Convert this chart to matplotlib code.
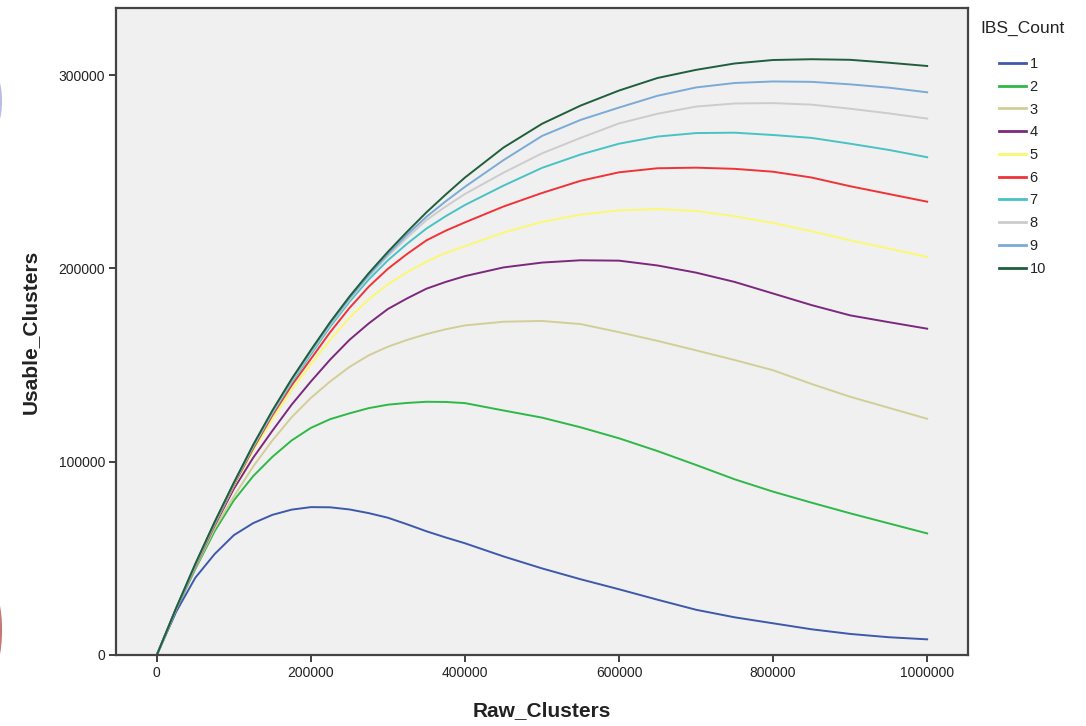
import matplotlib
matplotlib.use("Agg")
import matplotlib.pyplot as plt
from matplotlib.patches import Arc

plt.rcParams['font.family'] = ['Liberation Sans', 'DejaVu Sans']

# values
raw_clusters = [0, 25000, 50000, 75000, 100000, 125000, 150000, 175000, 200000, 225000, 250000,
                275000, 300000, 325000, 350000, 375000, 400000, 450000, 500000, 550000, 600000,
                650000, 700000, 750000, 800000, 850000, 900000, 950000, 1000000]

ibs_1 = [0, 22300, 40000, 52200, 62000, 68200, 72500, 75200, 76500, 76400, 75300,
         73400, 71000, 67600, 64000, 60800, 57800, 51000, 44800, 39200, 34000,
         28600, 23400, 19500, 16400, 13300, 10900, 9200, 8100]
ibs_2 = [0, 23500, 44500, 64000, 80000, 92500, 102500, 111000, 117500, 122000, 125000,
         127700, 129500, 130400, 131000, 130900, 130300, 126500, 122800, 117800, 112100,
         105500, 98300, 90900, 84500, 78800, 73300, 68100, 62900]
ibs_3 = [0, 23700, 45200, 65500, 82000, 97500, 111000, 123000, 133000, 141500, 149000,
         155000, 159500, 163000, 166000, 168500, 170500, 172400, 172800, 171200, 167000,
         162500, 157600, 152600, 147300, 140200, 133600, 127900, 122200]
ibs_4 = [0, 23800, 45800, 67000, 86000, 102000, 116000, 129500, 141500, 152800, 163000,
         171500, 179000, 184500, 189500, 193000, 196000, 200500, 203000, 204200, 204000,
         201500, 197800, 193000, 187000, 181000, 175700, 172200, 168800]
ibs_5 = [0, 23900, 46200, 67700, 87500, 105500, 122000, 137000, 150500, 163000, 174500,
         184000, 191800, 198000, 203500, 208000, 211500, 218500, 224000, 227800, 230000,
         230700, 229700, 227000, 223500, 219200, 214500, 210300, 205900]
ibs_6 = [0, 24000, 46500, 68000, 88000, 106700, 124000, 139500, 153200, 167000, 179500,
         190500, 199800, 207500, 214500, 219500, 223800, 232000, 239000, 245300, 249700,
         251800, 252100, 251500, 250000, 247000, 242500, 238500, 234500]
ibs_7 = [0, 24000, 46700, 68300, 88500, 107500, 125000, 141000, 155500, 169800, 182700,
         194200, 204200, 212800, 220600, 227000, 232800, 242800, 252000, 258900, 264500,
         268200, 270000, 270200, 269000, 267500, 264500, 261300, 257500]
ibs_8 = [0, 24100, 46900, 68500, 88700, 108000, 125500, 141800, 156600, 170800, 183700,
         195800, 206400, 216000, 225000, 232000, 238500, 249500, 259500, 267500, 275000,
         280000, 283700, 285300, 285500, 284700, 282600, 280200, 277500]
ibs_9 = [0, 24100, 47000, 68600, 88900, 108300, 126000, 142300, 157300, 171500, 184500,
         196500, 207400, 217500, 226700, 234700, 242200, 256000, 268500, 276800, 283200,
         289300, 293600, 295900, 296700, 296500, 295200, 293500, 291100]
ibs_10 = [0, 24200, 47200, 68800, 89200, 108700, 126500, 142800, 157800, 172200, 185400,
          197500, 208600, 219000, 229000, 238200, 247000, 262500, 274800, 284200, 292000,
          298500, 302700, 306000, 307800, 308200, 307900, 306400, 304700]

series = [ibs_1, ibs_2, ibs_3, ibs_4, ibs_5, ibs_6, ibs_7, ibs_8, ibs_9, ibs_10]
labels = ['1', '2', '3', '4', '5', '6', '7', '8', '9', '10']
colors = ['#3E58AC', '#2EB848', '#D3CE97', '#7C287D', '#FBF873',
          '#EF3338', '#48C2C5', '#CCCCCC', '#7AAAD5', '#1F5F3C']

fig = plt.figure(figsize=(10.86, 7.26), dpi=100)
ax = fig.add_axes([116/1086, 1 - 655/726, (968-116)/1086, (655-8)/726])
ax.set_facecolor('#F0F0F0')

for ys, lab, c in zip(series, labels, colors):
    ax.plot(raw_clusters, ys, color=c, lw=1.4, label=lab)

ax.set_xlim(-53000, 1053000)
ax.set_ylim(0, 334700)
ax.set_xticks([0, 200000, 400000, 600000, 800000, 1000000])
ax.set_yticks([0, 100000, 200000, 300000])
ax.set_xticklabels(['0', '200000', '400000', '600000', '800000', '1000000'])
ax.set_yticklabels(['0', '100000', '200000', '300000'])
ax.tick_params(direction='out', length=5, width=1.3, color='#333333',
               labelsize=10, labelcolor='#222222', pad=3)
for s in ax.spines.values():
    s.set_linewidth(1.6)
    s.set_color('#444444')

ax.set_xlabel('Raw_Clusters', fontsize=15, fontweight='bold', color='#222222')
ax.set_ylabel('Usable_Clusters', fontsize=15, fontweight='bold', color='#222222')
ax.xaxis.set_label_coords(0.5, (655 - 711) / 647)
ax.xaxis.label.set_va('center')
ax.yaxis.set_label_coords((30 - 116) / 852, 0.5)
ax.yaxis.label.set_va('center')

fig.text(980/1086, 1 - 28/726, 'IBS_Count', fontsize=12.5, va='center', ha='left', color='#222222')
leg = fig.legend(loc='upper left', bbox_to_anchor=(999/1086, 1 - 57/726), frameon=False,
                 fontsize=10.5, handlelength=1.85, handletextpad=0.25, labelspacing=0.6,
                 borderpad=0, borderaxespad=0)
for t in leg.get_texts():
    t.set_color('#222222')
for h in leg.get_lines():
    h.set_linewidth(2)

# slivers of another picture on the left edge of the screenshot
fig.add_artist(Arc((-9/1086, 1 - 101/726), 20/1086, 60/726, theta1=-90, theta2=90,
                   transform=fig.transFigure, color='#A9ACE0', lw=1.5, alpha=0.8))
fig.add_artist(Arc((-9/1086, 1 - 630/726), 20/1086, 80/726, theta1=-90, theta2=90,
                   transform=fig.transFigure, color='#B03A3A', lw=1.5, alpha=0.7))

fig.savefig('out.png', dpi=100)
